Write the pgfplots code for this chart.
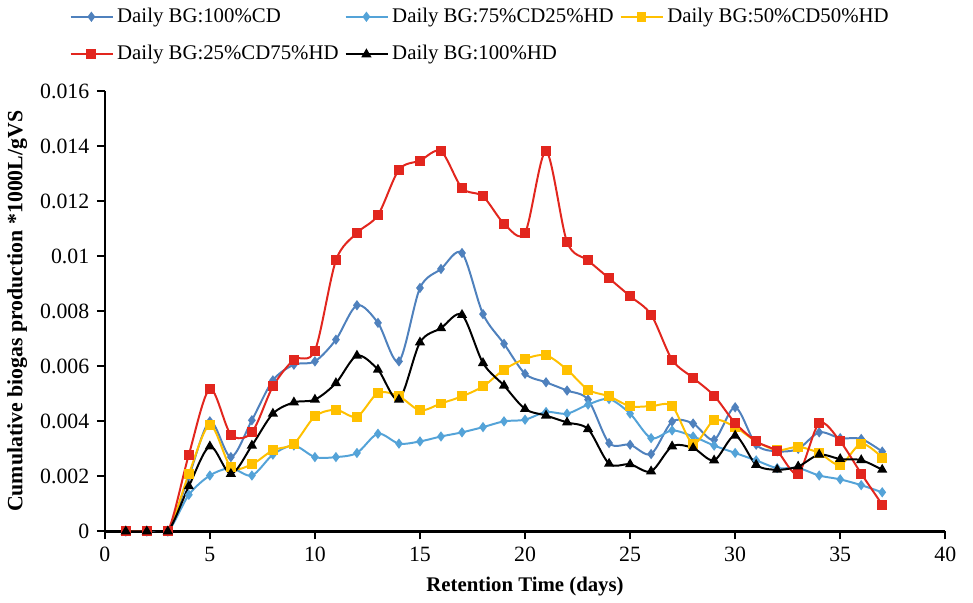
\documentclass[border=0pt]{standalone}
\usepackage{fontspec}
\setmainfont{Liberation Serif}
\usepackage{pgfplots}
\pgfplotsset{compat=1.18}
\definecolor{cdblue}{RGB}{79,129,189}
\definecolor{ltblue}{RGB}{84,163,216}
\definecolor{cyel}{RGB}{255,192,0}
\definecolor{cred}{RGB}{226,38,30}
\begin{document}
\fontsize{11}{13}\selectfont
\begin{tikzpicture}
\begin{axis}[
  width=424pt, height=222pt, scale only axis,
  xmin=0, xmax=40, ymin=0, ymax=0.016,
  xtick={0,5,...,40},
  ytick={0,0.002,...,0.016},
  scaled y ticks=false,
  yticklabel style={/pgf/number format/fixed,/pgf/number format/precision=3},
  /pgf/number format/assume math mode=true,
  axis x line*=bottom, axis y line*=left,
  axis line style={line width=1.2pt,-},
  tick align=outside,
  major tick length=4pt,
  tick style={line width=1pt, black},
  ticklabel style={font=\fontsize{11}{13}\selectfont},
  xlabel={\textbf{Retention Time (days)}},
  ylabel={\textbf{Cumulative biogas production *1000L/gVS}},
  xlabel style={font=\fontsize{10.5}{13}\selectfont, yshift=0pt},
  ylabel style={font=\fontsize{11}{13}\selectfont, yshift=-1pt},
  legend columns=3,
  legend cell align=left,
  legend style={draw=none, fill=none, at={(axis description cs:0,1)}, anchor=south west,
    xshift=-21pt, yshift=10pt, font=\fontsize{10.5}{12.5}\selectfont,
    /tikz/every even column/.append style={column sep=1pt}, row sep=6pt},
  legend image code/.code={\draw[mark repeat=2,mark phase=2] plot coordinates {(0cm,0cm) (0.37cm,0cm) (0.74cm,0cm)};},
  every axis plot/.append style={line width=1pt, smooth, tension=0.5},
  after end axis/.code={\path (rel axis cs:1,0) ++(14pt,0);},
]
\addplot[color=cdblue, mark=diamond*, mark size=1.8pt, mark options={fill=cdblue}] coordinates {
(1,0)(2,0)(3,0)(4,0.0020)(5,0.0040)(6,0.0027)(7,0.00404)(8,0.00549)(9,0.00606)(10,0.00618)
(11,0.00697)(12,0.00822)(13,0.00758)(14,0.00618)(15,0.00885)(16,0.00954)(17,0.01012)(18,0.0079)
(19,0.00682)(20,0.00573)(21,0.00542)(22,0.00512)(23,0.00479)(24,0.00321)(25,0.00315)(26,0.00281)
(27,0.00399)(28,0.00392)(29,0.00333)(30,0.00451)(31,0.00315)(32,0.00291)(33,0.0030)(34,0.0036)
(35,0.00339)(36,0.00336)(37,0.0029)};
\addlegendentry{Daily BG:100\%CD}
\addplot[color=ltblue, mark=diamond*, mark size=1.8pt, mark options={fill=ltblue}] coordinates {
(1,0)(2,0)(3,0)(4,0.00133)(5,0.00203)(6,0.0023)(7,0.00203)(8,0.00279)(9,0.00312)(10,0.0027)
(11,0.0027)(12,0.00285)(13,0.00355)(14,0.00319)(15,0.00327)(16,0.00345)(17,0.0036)(18,0.00379)
(19,0.0040)(20,0.00406)(21,0.00434)(22,0.00428)(23,0.00461)(24,0.00481)(25,0.00428)(26,0.00339)
(27,0.00367)(28,0.00345)(29,0.00312)(30,0.00285)(31,0.00258)(32,0.0023)(33,0.0023)(34,0.00203)
(35,0.00189)(36,0.00168)(37,0.00142)};
\addlegendentry{Daily BG:75\%CD25\%HD}
\addplot[color=cyel, mark=square*, mark size=2pt, mark options={fill=cyel}] coordinates {
(1,0)(2,0)(3,0)(4,0.00209)(5,0.00387)(6,0.00234)(7,0.00244)(8,0.00295)(9,0.00319)(10,0.00418)
(11,0.00442)(12,0.00417)(13,0.00503)(14,0.00491)(15,0.0044)(16,0.00465)(17,0.00491)(18,0.00527)
(19,0.00588)(20,0.00627)(21,0.0064)(22,0.00588)(23,0.00515)(24,0.00491)(25,0.00455)(26,0.00455)
(27,0.00455)(28,0.00319)(29,0.00404)(30,0.00379)(31,0.00327)(32,0.00295)(33,0.00307)(34,0.00285)
(35,0.00242)(36,0.00319)(37,0.00268)};
\addlegendentry{Daily BG:50\%CD50\%HD}
\addplot[color=cred, mark=square*, mark size=2pt, mark options={fill=cred}] coordinates {
(1,0)(2,0)(3,0)(4,0.00279)(5,0.00518)(6,0.00352)(7,0.0036)(8,0.00527)(9,0.00624)(10,0.00657)
(11,0.00985)(12,0.01085)(13,0.0115)(14,0.01315)(15,0.01348)(16,0.01382)(17,0.01248)(18,0.01218)
(19,0.01119)(20,0.01085)(21,0.01382)(22,0.01052)(23,0.00985)(24,0.0092)(25,0.00855)(26,0.00788)
(27,0.00624)(28,0.00558)(29,0.00493)(30,0.00394)(31,0.00327)(32,0.00291)(33,0.0021)(34,0.00393)
(35,0.00327)(36,0.0021)(37,0.00097)};
\addlegendentry{Daily BG:25\%CD75\%HD}
\addplot[color=black, mark=triangle*, mark size=2pt, mark options={fill=black}] coordinates {
(1,0)(2,0)(3,0)(4,0.00164)(5,0.00309)(6,0.00209)(7,0.00312)(8,0.00428)(9,0.00469)(10,0.00479)
(11,0.00539)(12,0.00639)(13,0.00588)(14,0.00479)(15,0.00687)(16,0.00739)(17,0.00787)(18,0.00612)
(19,0.0053)(20,0.00445)(21,0.00421)(22,0.00396)(23,0.00372)(24,0.00246)(25,0.00244)(26,0.00218)
(27,0.00309)(28,0.00303)(29,0.00258)(30,0.00348)(31,0.00242)(32,0.00224)(33,0.00236)(34,0.00279)
(35,0.00263)(36,0.00259)(37,0.00224)};
\addlegendentry{Daily BG:100\%HD}
\end{axis}
\end{tikzpicture}
\end{document}
